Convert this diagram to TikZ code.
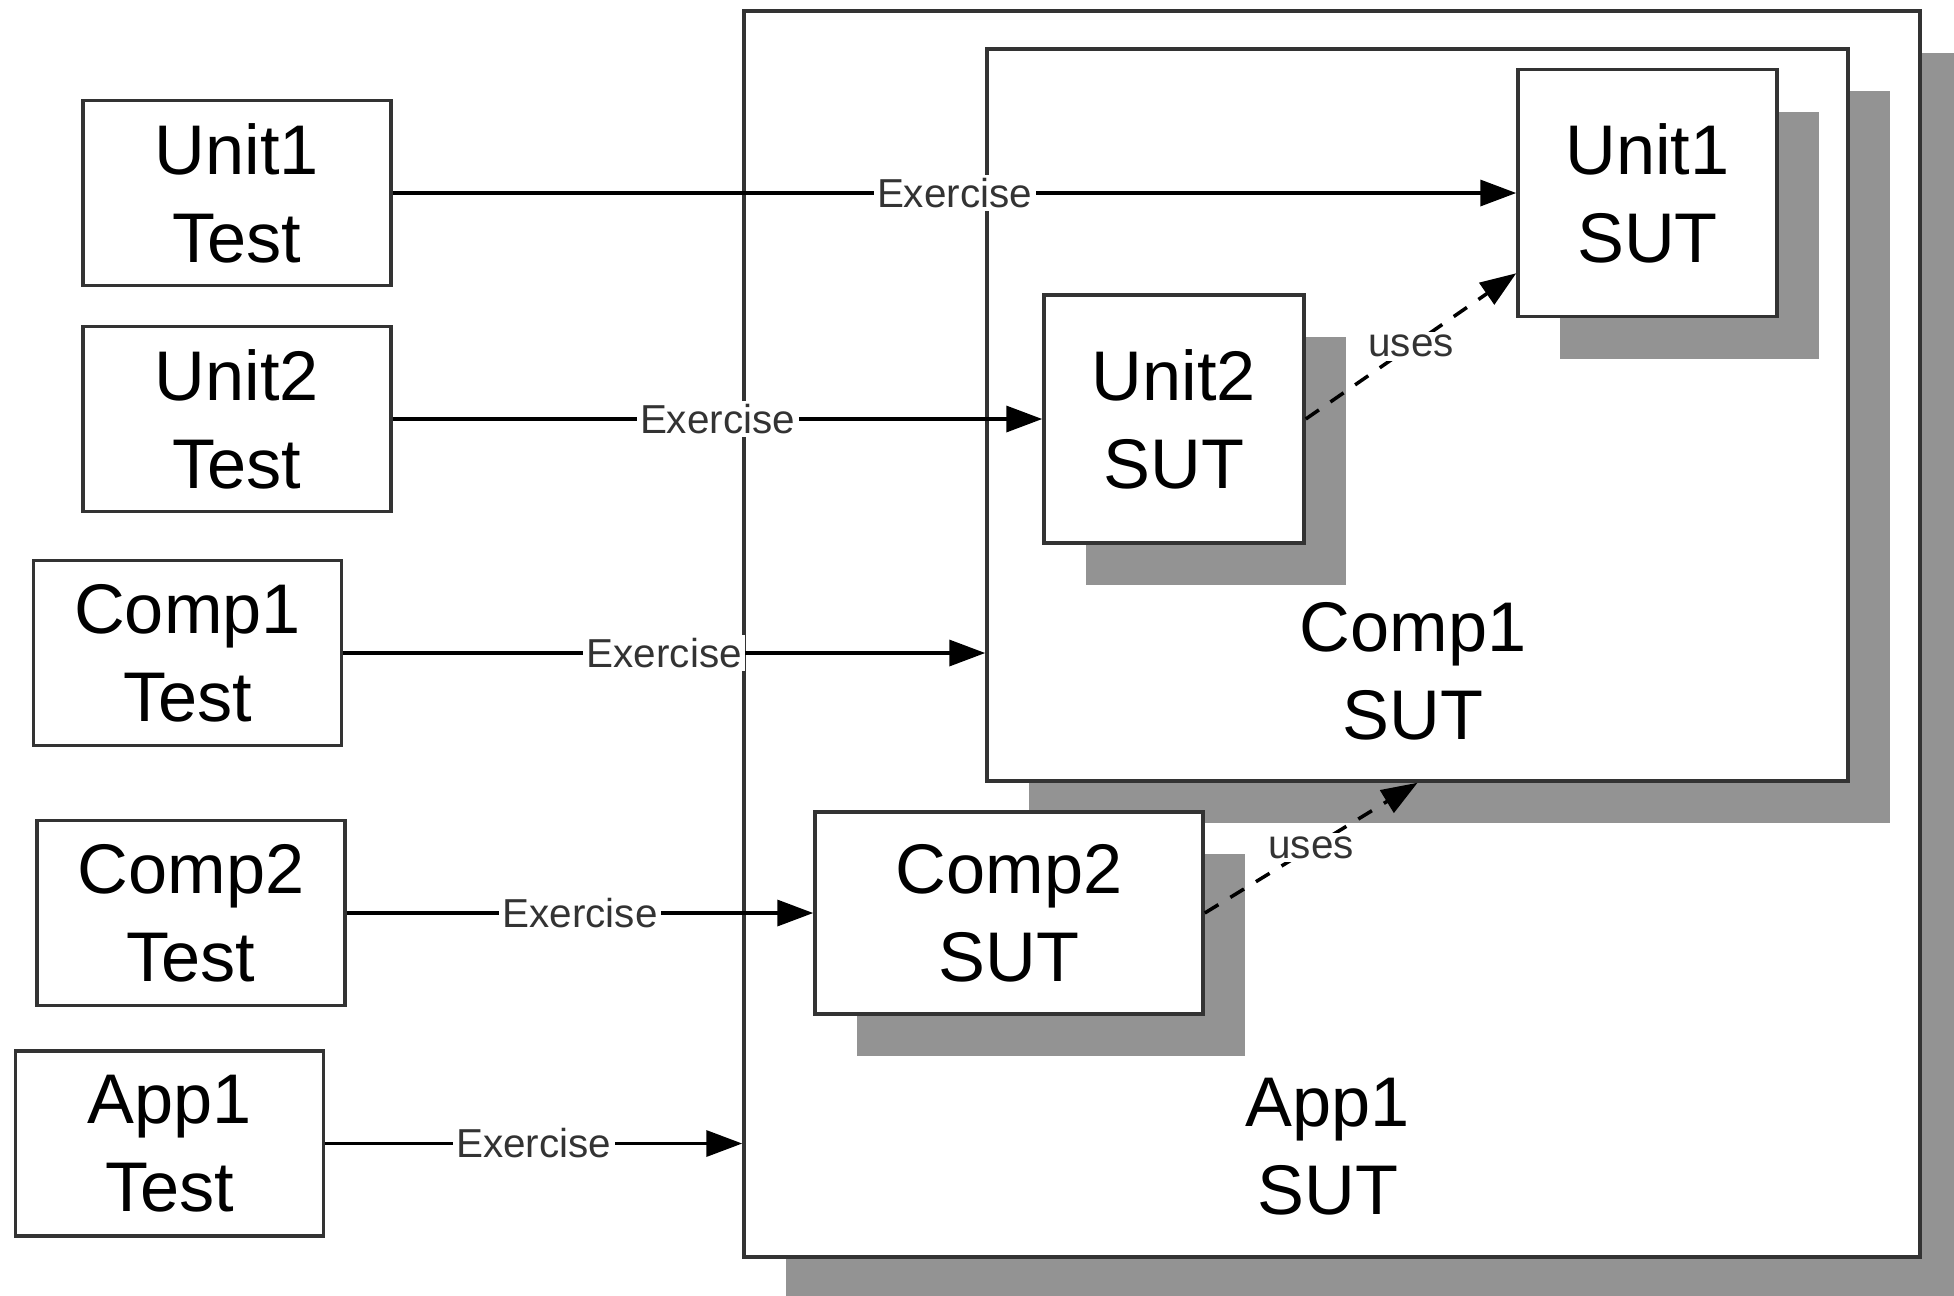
\documentclass[tikz,border=0pt]{standalone}
\usepackage{fontspec}
\setmainfont{Liberation Sans}
\usepackage{tikz}
\usetikzlibrary{arrows.meta, positioning, calc, shadows}
\definecolor{ShadowGray}{HTML}{939393}
\definecolor{LineGray}{HTML}{333333}

\begin{document}
\begin{tikzpicture}[
    >={Triangle[length=3.6mm, width=2.6mm]},
    box/.style={
        draw=LineGray,
        line width=1pt,
        fill=white,
        inner sep=0pt,
        align=center,
        font=\fontsize{20}{25}\selectfont
    },
    testbox/.style={box, minimum width=3.08cm, minimum height=1.85cm},
    sut/.style={box, drop shadow={shadow xshift=4.2mm, shadow yshift=-4.2mm, fill=ShadowGray, opacity=1}},
    big/.style={align=center, font=\fontsize{20}{25}\selectfont},
    exer/.style={draw=black, line width=1pt, ->},
    uses/.style={draw=black, line width=1pt, ->, dash pattern=on 1.6mm off 1.4mm},
    lbl/.style={font=\fontsize{11.5}{13}\selectfont, fill=white, inner sep=1pt, text=LineGray}
]

\useasboundingbox (0,0) rectangle (19.54,-12.95);
\clip (0,0) rectangle (19.54,-12.95);

% systems under test
\node[sut, minimum width=11.76cm, minimum height=12.46cm] (app1) at (13.32,-6.34) {};
\node[big] (app1lbl) at (13.28,-11.47) {App1\\SUT};
\node[sut, minimum width=8.61cm, minimum height=7.32cm] (comp1) at (14.175,-4.15) {};
\node[big] (comp1lbl) at (14.13,-6.71) {Comp1\\SUT};
\node[sut, minimum width=2.59cm, minimum height=2.47cm] (u1sut) at (16.475,-1.93) {Unit1\\SUT};
\node[sut, minimum width=2.60cm, minimum height=2.48cm] (u2sut) at (11.74,-4.19) {Unit2\\SUT};
\node[sut, minimum width=3.88cm, minimum height=2.02cm] (c2sut) at (10.09,-9.13) {Comp2\\SUT};

% tests
\node[testbox] (u1test) at (2.37,-1.93) {Unit1\\Test};
\node[testbox] (u2test) at (2.37,-4.19) {Unit2\\Test};
\node[testbox] (c1test) at (1.875,-6.53) {Comp1\\Test};
\node[testbox] (c2test) at (1.91,-9.13) {Comp2\\Test};
\node[testbox] (a1test) at (1.695,-11.435) {App1\\Test};

% exercise arrows
\path (u1test) edge[exer] node[lbl] {Exercise} (u1sut);
\path (u2test) edge[exer] node[lbl] {Exercise} (u2sut);
\draw[exer] (c1test.east) -- (c1test.east -| comp1.west) node[midway, lbl] {Exercise};
\path (c2test) edge[exer] node[lbl] {Exercise} (c2sut);
\draw[exer] (a1test.east) -- (a1test.east -| app1.west) node[midway, lbl] {Exercise};

% uses
\draw[uses] (u2sut.east) -- ([yshift=0.45cm]u1sut.south west) node[midway, lbl] {uses};
\draw[uses] (c2sut.east) -- (comp1.south) node[midway, lbl] {uses};

\end{tikzpicture}
\end{document}
